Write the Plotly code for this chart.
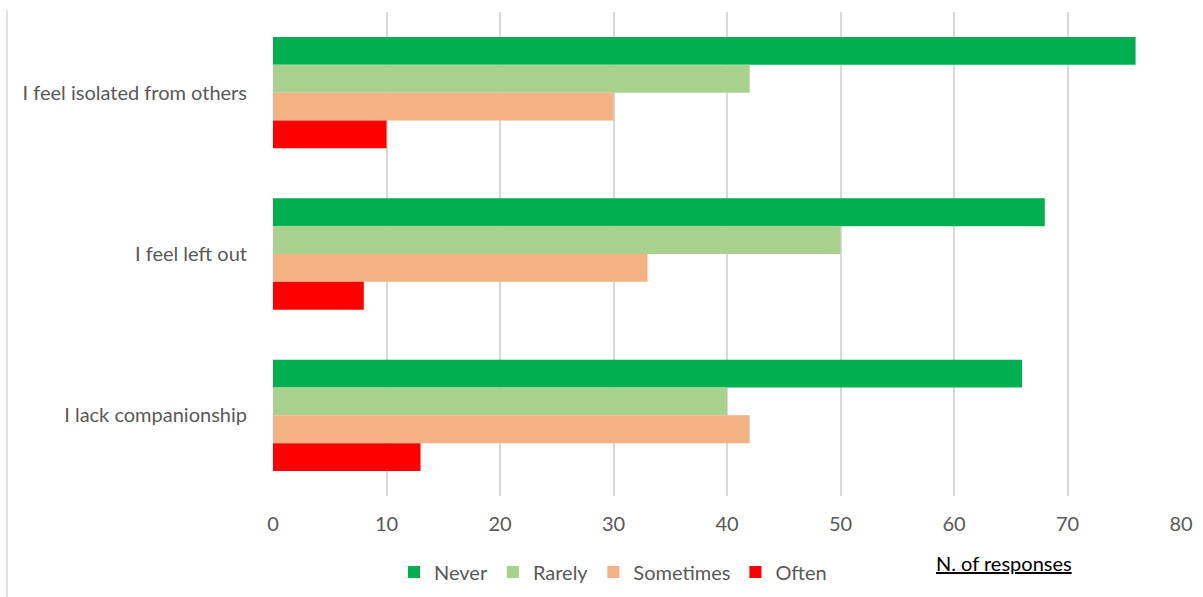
import plotly.graph_objects as go

categories = ["I feel isolated from others", "I feel left out", "I lack companionship"]
series_names = ["Never", "Rarely", "Sometimes", "Often"]
never = [76, 68, 66]
rarely = [42, 50, 40]
sometimes = [30, 33, 42]
often = [10, 8, 13]
x_ticks = [0, 10, 20, 30, 40, 50, 60, 70, 80]

colors = ["#00B050", "#A9D18E", "#F4B183", "#FF0000"]
values = [never, rarely, sometimes, often]

FONT = "Lato"
GREY = "#595959"

fig = go.Figure()
for name, vals, col in zip(series_names, values, colors):
    fig.add_trace(go.Bar(
        y=categories, x=vals, name=name, orientation="h",
        marker=dict(color=col, line=dict(width=0)),
    ))

L, T, PW, PH = 273, 12, 908, 484
fig.update_layout(
    width=1203, height=597,
    margin=dict(l=L, r=1203 - L - PW, t=T, b=597 - T - PH, autoexpand=False),
    paper_bgcolor="white", plot_bgcolor="white",
    barmode="group", bargap=0.31, bargroupgap=0,
    font=dict(family=FONT, size=20, color=GREY),
    showlegend=True,
    legend=dict(orientation="h", x=(394 - L) / PW, xanchor="left",
                y=(T + PH - 572) / PH, yanchor="middle",
                font=dict(family=FONT, size=20, color=GREY), itemwidth=30,
                tracegroupgap=0),
    xaxis=dict(range=[0, 80], tickvals=x_ticks, showgrid=True, gridcolor="#D9D9D9",
               gridwidth=1.5, zeroline=False, showline=False, ticks="",
               automargin=False,
               ticklabelstandoff=14, tickfont=dict(size=20, color=GREY)),
    yaxis=dict(autorange="reversed", showgrid=False, zeroline=False, showline=False,
               automargin=False,
               ticks="", ticklabelstandoff=25, tickfont=dict(size=20, color=GREY)),
    annotations=[dict(text="<u>N. of responses</u>", xref="paper", yref="paper",
                      x=(1004 - L) / PW, y=(T + PH - 563) / PH, xanchor="center",
                      yanchor="middle", showarrow=False,
                      font=dict(family=FONT, size=20, color="black"))],
    shapes=[dict(type="line", xref="paper", yref="paper",
                 x0=(7 - L) / PW, x1=(7 - L) / PW,
                 y0=(T + PH - 600) / PH, y1=(T + PH - 10) / PH,
                 line=dict(color="#D9D9D9", width=1.5))],
)

fig.write_html("out.html", config={"displayModeBar": False},
               post_script="document.body.style.margin='0';")
